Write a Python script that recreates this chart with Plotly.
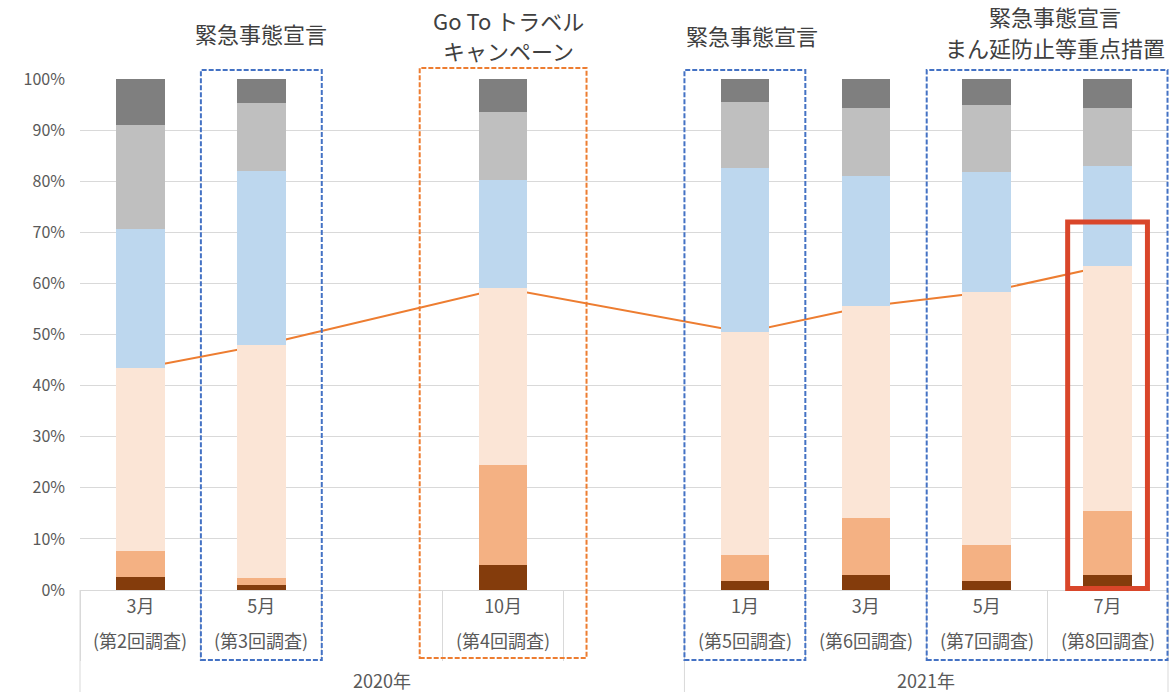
import plotly.graph_objects as go

# ---------------- data ----------------
slots = ["2020-03", "2020-05", "gap-a", "2020-10", "gap-b",
         "2021-01", "2021-03", "2021-05", "2021-07"]
slot_years = ["2020年", "2020年", "2020年", "2020年", "2020年",
              "2021年", "2021年", "2021年", "2021年"]

survey_ids = ["2020-03", "2020-05", "2020-10", "2021-01", "2021-03", "2021-05", "2021-07"]
months = ["3月", "5月", "10月", "1月", "3月", "5月", "7月"]
surveys = ["(第2回調査)", "(第3回調査)", "(第4回調査)", "(第5回調査)",
           "(第6回調査)", "(第7回調査)", "(第8回調査)"]

# stacked segments (%), bottom to top
seg1 = [2.5, 0.9, 4.9, 1.7, 2.9, 1.7, 3.0]
seg2 = [5.1, 1.4, 19.5, 5.1, 11.2, 7.2, 12.5]
seg3 = [35.8, 45.6, 34.7, 43.6, 41.4, 49.4, 48.0]
seg4 = [27.2, 34.0, 21.2, 32.1, 25.5, 23.5, 19.4]
seg5 = [20.4, 13.4, 13.3, 13.0, 13.4, 13.2, 11.5]
seg6 = [9.0, 4.7, 6.4, 4.5, 5.6, 5.0, 5.6]

# line series (%)
line_vals = [43.4, 47.9, 59.1, 50.4, 55.5, 58.3, 63.5]

y_ticks = [0, 10, 20, 30, 40, 50, 60, 70, 80, 90, 100]
y_ticktext = ["0%", "10%", "20%", "30%", "40%", "50%", "60%", "70%", "80%", "90%", "100%"]

# event headers (slot(s) they sit over, text lines)
events = [
    (["2020-05"], ["緊急事態宣言"]),
    (["2020-10"], ["Go To トラベル", "キャンペーン"]),
    (["2021-01"], ["緊急事態宣言"]),
    (["2021-05", "2021-07"], ["緊急事態宣言", "まん延防止等重点措置"]),
]

# ---------------- styling ----------------
seg_colors = ["#843C0C", "#F4B183", "#FBE5D6", "#BDD7EE", "#BFBFBF", "#7F7F7F"]
seg_names = ["区分1", "区分2", "区分3", "区分4", "区分5", "区分6"]
FONT = "Noto Sans CJK JP"
TXT = "#595959"
GRID = "#D9D9D9"
W, H = 1174, 692
ML, MR, MT, MB = 80, 6, 79, 102
PH = H - MT - MB
XR = [-0.5, len(slots) - 0.5]

# header text line centres (pixels above plot top) and x nudges
header_px = [[46], [59, 29], [44], [63, 32]]
header_xshift = [0, 5, 7, 8]


def xp(idx):
    return (idx - XR[0]) / (XR[1] - XR[0])


def ypx(px_from_axis):
    # pixels (positive = up) relative to the x axis, as paper fraction
    return px_from_axis / PH


fig = go.Figure()

# line under the bars (base axes)
fig.add_trace(go.Scatter(
    x=survey_ids, y=line_vals, mode="lines",
    line=dict(color="#ED7D31", width=2),
    xaxis="x", yaxis="y", showlegend=False, hoverinfo="skip"))

# bars on overlaid axes (drawn above the line)
for vals, col, nm in zip([seg1, seg2, seg3, seg4, seg5, seg6], seg_colors, seg_names):
    fig.add_trace(go.Bar(
        x=survey_ids, y=vals, name=nm, marker=dict(color=col, line=dict(width=0)),
        width=0.4, xaxis="x2", yaxis="y2", showlegend=False))

xcommon = dict(type="category", categoryorder="array", categoryarray=slots,
               range=XR, fixedrange=True)

fig.update_layout(
    width=W, height=H,
    margin=dict(l=ML, r=MR, t=MT, b=MB),
    paper_bgcolor="white", plot_bgcolor="white",
    barmode="stack", bargap=0.6,
    font=dict(family=FONT, color=TXT),
    xaxis=dict(**xcommon, showgrid=False, zeroline=False,
               showline=True, linecolor=GRID, linewidth=1,
               ticks="", tickmode="array", tickvals=survey_ids, ticktext=months,
               tickfont=dict(size=18, color=TXT, family=FONT)),
    xaxis2=dict(**xcommon, overlaying="x", anchor="y2", showgrid=False, zeroline=False,
                showline=False, showticklabels=False,
                ticks="outside", tickson="boundaries", ticklen=70,
                tickcolor=GRID, tickwidth=1),
    yaxis=dict(range=[0, 100], tickmode="array", tickvals=y_ticks, ticktext=y_ticktext,
               showgrid=True, gridcolor=GRID, gridwidth=1, zeroline=False,
               showline=False, ticks="", ticklabelstandoff=14,
               tickfont=dict(size=16, color=TXT, family=FONT), fixedrange=True),
    yaxis2=dict(range=[0, 100], overlaying="y", visible=False, fixedrange=True),
)

shapes = []
# outer group dividers (year boundaries)
bounds = [0]
for i in range(1, len(slots)):
    if slot_years[i] != slot_years[i - 1]:
        bounds.append(i)
bounds.append(len(slots))
for b in bounds:
    shapes.append(dict(type="line", xref="paper", yref="paper",
                       x0=xp(b - 0.5), x1=xp(b - 0.5), y0=0, y1=ypx(-MB),
                       line=dict(color=GRID, width=1)))


# dashed event boxes
def box(i0, i1, pad, color, top_px, bot_px):
    return dict(type="rect", xref="paper", yref="paper",
                x0=xp(i0 - 0.5 - pad), x1=xp(i1 + 0.5 + pad),
                y0=ypx(-bot_px), y1=1 + ypx(top_px),
                line=dict(color=color, width=2, dash="5px,2px"),
                fillcolor="rgba(0,0,0,0)")


BLUE = "#4472C4"
ORANGE = "#ED7D31"
shapes.append(box(slots.index("2020-05"), slots.index("2020-05"), 0, BLUE, 9, 70))
shapes.append(box(slots.index("2020-10"), slots.index("2020-10"), 0.19, ORANGE, 11, 68))
shapes.append(box(slots.index("2021-01"), slots.index("2021-01"), 0, BLUE, 9, 70))
shapes.append(box(slots.index("2021-05"), slots.index("2021-07"), -0.004, BLUE, 9, 70))

# red highlight box around the latest survey
ri = slots.index("2021-07")
shapes.append(dict(type="rect", xref="paper", yref="paper",
                   x0=xp(ri - 0.33), x1=xp(ri + 0.33),
                   y0=0.3 / 100, y1=72.0 / 100,
                   line=dict(color="#D9462A", width=5),
                   fillcolor="rgba(0,0,0,0)"))
fig.update_layout(shapes=shapes)

ann = []
# survey labels (second row)
for sid, s in zip(survey_ids, surveys):
    ann.append(dict(x=sid, xref="x", y=0, yref="paper", yshift=-50,
                    text=s, showarrow=False, xanchor="center", yanchor="middle",
                    font=dict(size=18, color=TXT, family=FONT)))
# year labels
for yr in dict.fromkeys(slot_years):
    idxs = [i for i, v in enumerate(slot_years) if v == yr]
    ann.append(dict(x=xp(sum(idxs) / len(idxs)), xref="paper", y=0, yref="paper",
                    yshift=-90, text=yr, showarrow=False,
                    xanchor="center", yanchor="middle",
                    font=dict(size=18, color=TXT, family=FONT)))
# event headers
for (pos, lines), ys_list, xs in zip(events, header_px, header_xshift):
    idxs = [slots.index(p) for p in pos]
    xc = sum(idxs) / len(idxs)
    for txt, ys in zip(lines, ys_list):
        ann.append(dict(x=xp(xc), xref="paper", y=1, yref="paper", yshift=ys, xshift=xs,
                        text=txt, showarrow=False, xanchor="center", yanchor="middle",
                        font=dict(size=22, color="#404040", family=FONT)))
fig.update_layout(annotations=ann)

fig.write_html("out.html")
